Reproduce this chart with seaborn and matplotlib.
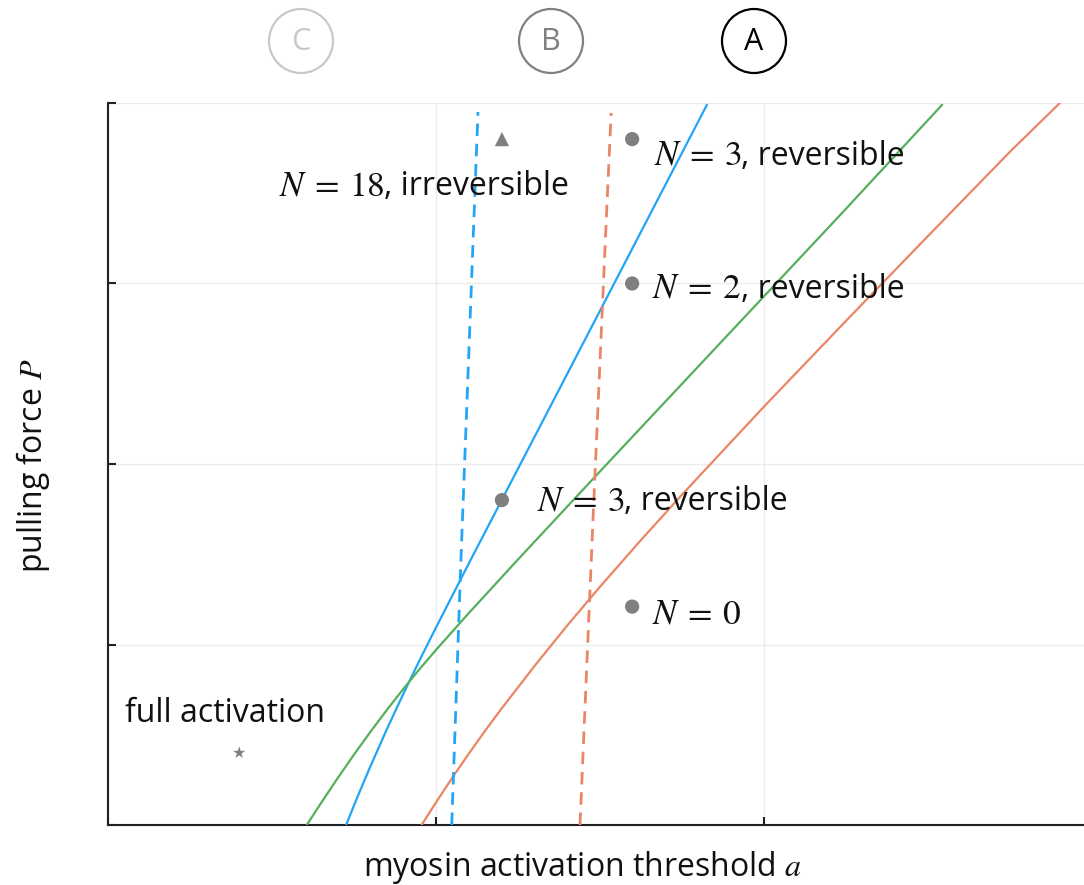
import numpy as np
import pandas as pd
import matplotlib
matplotlib.use("Agg")
import matplotlib.pyplot as plt
from matplotlib.patches import Ellipse
import seaborn as sns

# ---- data: boundary curves in (threshold a, pulling force P) ----
blue_a = [0.726, 0.76, 0.80, 0.85, 0.90, 0.95, 1.00, 1.10, 1.20, 1.40, 1.60, 1.826]
blue_p = [0.0, 0.153, 0.325, 0.530, 0.725, 0.913, 1.094, 1.449, 1.799, 2.499, 3.199, 3.99]

green_a = [0.606, 0.65, 0.70, 0.75, 0.80, 0.85, 0.90, 0.95, 1.00, 1.10, 1.25,
           1.50, 1.75, 2.00, 2.25, 2.543]
green_p = [0.0, 0.123, 0.259, 0.390, 0.516, 0.637, 0.753, 0.864, 0.970, 1.174, 1.471,
           1.959, 2.444, 2.929, 3.414, 3.99]

orange_a = [0.956, 1.00, 1.05, 1.10, 1.15, 1.20, 1.30, 1.40, 1.50, 1.625, 1.75,
            2.00, 2.25, 2.50, 2.75, 2.902]
orange_p = [0.0, 0.125, 0.263, 0.395, 0.523, 0.645, 0.880, 1.105, 1.320, 1.579, 1.830,
            2.318, 2.793, 3.263, 3.730, 4.0]

blue_dash_a = [1.048, 1.076, 1.128]
blue_dash_p = [0.0, 1.468, 3.95]

orange_dash_a = [1.439, 1.479, 1.515, 1.534]
orange_dash_p = [0.0, 1.706, 3.186, 3.945]

# ---- data: marked parameter sets ----
circle_a = [1.598, 1.598, 1.201, 1.598]
circle_p = [3.80, 3.00, 1.80, 1.21]
triangle_a = [1.201]
triangle_p = [3.80]
star_a = [0.40]
star_p = [0.40]

# annotation text: math part and plain part, anchored at the baseline start
label_math = ["N\\:=\\:18", "N\\:=\\:3", "N\\:=\\:2", "N\\:=\\:3", "N\\:=\\:0", ""]
label_rest = [", irreversible", ", reversible", ", reversible", ", reversible", "",
              "full activation"]
label_a = [0.521, 1.665, 1.659, 1.308, 1.659, 0.052]
label_p = [3.490, 3.657, 2.920, 1.745, 1.119, 0.571]

panel_letters = ["C", "B", "A"]
panel_colors = ["#c8c8c8", "#808080", "#000000"]
panel_x = [301, 551, 754]

BLUE, ORANGE, GREEN, GREY = "#22a5f5", "#ea8565", "#55b05c", "#7f7f7f"
TXT = "#111111"

sns.set_theme(style="white")
plt.rcParams["font.family"] = ["Open Sans", "DejaVu Sans"]
plt.rcParams["mathtext.fontset"] = "stix"

W, H = 1084, 885
DPI = 100
fig = plt.figure(figsize=(W / DPI, H / DPI), dpi=DPI)
ax = fig.add_axes([108 / W, 60 / H, (1084 - 108) / W, 722 / H])

def curve(a, p, color, dashed=False):
    df = pd.DataFrame({"a": a, "p": p})
    sns.lineplot(data=df, x="a", y="p", sort=False, ax=ax, color=color,
                 lw=2.0 if dashed else 1.6,
                 linestyle=(0, (4.5, 2.8)) if dashed else "-",
                 estimator=None, zorder=3)

curve(blue_a, blue_p, BLUE)
curve(green_a, green_p, GREEN)
curve(orange_a, orange_p, ORANGE)
curve(blue_dash_a, blue_dash_p, BLUE, dashed=True)
curve(orange_dash_a, orange_dash_p, ORANGE, dashed=True)

sns.scatterplot(x=circle_a, y=circle_p, ax=ax, color=GREY, marker="o", s=105,
                edgecolor="none", zorder=4)
sns.scatterplot(x=triangle_a, y=triangle_p, ax=ax, color=GREY, marker="^", s=105,
                edgecolor="none", zorder=4)
sns.scatterplot(x=star_a, y=star_p, ax=ax, color=GREY, marker="*", s=85,
                edgecolor="none", zorder=4)

ax.set_xlim(0, (1084 - 108) / 328)
ax.set_ylim(0, 4)
ax.set_xticks([0, 1, 2])
ax.set_yticks([0, 1, 2, 3, 4])
ax.set_xticklabels([])
ax.set_yticklabels([])
ax.tick_params(direction="in", length=6, width=1.5, color="#222222",
               left=True, bottom=True)
ax.grid(True, color="#ececec", lw=1.0)
ax.set_axisbelow(True)
sns.despine(ax=ax, top=True, right=True)
for side in ("left", "bottom"):
    ax.spines[side].set_color("#222222")
    ax.spines[side].set_linewidth(1.5)
ax.set_xlabel("")
ax.set_ylabel("")

# labels: italic math part followed by plain text on the same baseline
fig.canvas.draw()
renderer = fig.canvas.get_renderer()
for m, rest, a, p in zip(label_math, label_rest, label_a, label_p):
    if m:
        t1 = ax.text(a, p, f"${m}$", fontsize=25.5, color=TXT, va="baseline",
                     ha="left", zorder=5)
        if rest:
            w_px = t1.get_window_extent(renderer).width
            ax.annotate(rest, xy=(a, p), xytext=(w_px * 72 / DPI, 0),
                        textcoords="offset points", fontsize=23, color=TXT,
                        va="baseline", ha="left", zorder=5)
    else:
        ax.text(a, p, rest, fontsize=23, color=TXT, va="baseline", ha="left", zorder=5)

fig.text(582 / W, 1 - 867 / H, "myosin activation threshold $a$", fontsize=23,
         ha="center", va="center", color=TXT)
fig.text(33 / W, 1 - 466 / H, "pulling force $P$", fontsize=23, rotation=90,
         ha="center", va="center", color=TXT)

# circled panel letters above the plot
for letter, color, xc in zip(panel_letters, panel_colors, panel_x):
    fig.add_artist(Ellipse((xc / W, 1 - 41 / H), 64 / W, 64 / H,
                           transform=fig.transFigure, fill=False, ec=color, lw=1.6))
    fig.text(xc / W, 1 - 42 / H, letter, fontsize=22, color=color,
             ha="center", va="center")

fig.savefig("out.png", dpi=DPI)
